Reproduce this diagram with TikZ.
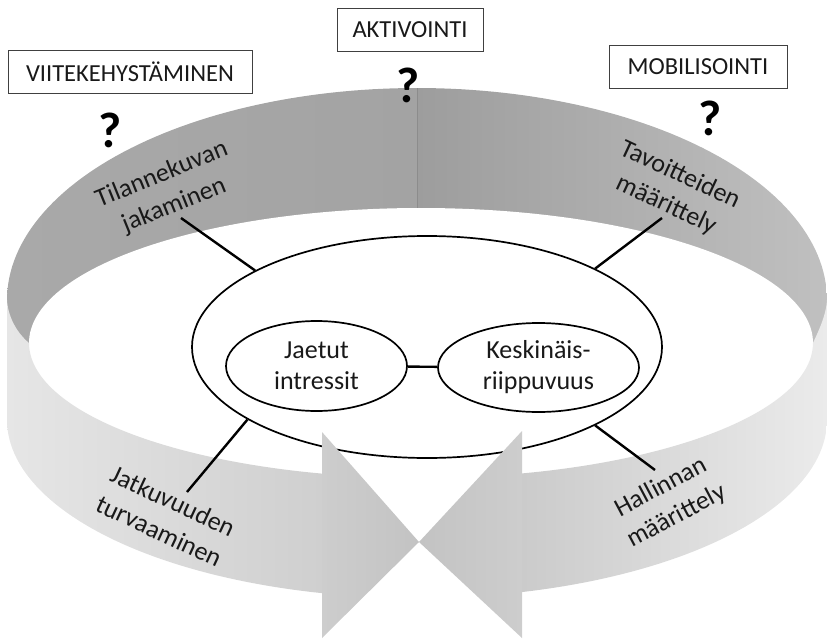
\documentclass[tikz,border=0pt]{standalone}
\usepackage{fontspec}
\setmainfont{Carlito}
\usetikzlibrary{shapes.geometric}
% band colours
\definecolor{backLo}{HTML}{A9A9A9}
\definecolor{backLi}{HTML}{A3A3A3}
\definecolor{backRi}{HTML}{9D9D9D}
\definecolor{backRo}{HTML}{C0C0C0}
\definecolor{frontLo}{HTML}{E6E6E6}
\definecolor{frontLm}{HTML}{E2E2E2}
\definecolor{frontLi}{HTML}{CFCFCF}
\definecolor{frontRi}{HTML}{CBCBCB}
\definecolor{frontRo}{HTML}{EBEBEB}
\definecolor{headA}{HTML}{CDCDCD}
\definecolor{headB}{HTML}{C3C3C3}
\definecolor{seam}{HTML}{8C8C8C}
\begin{document}
\begin{tikzpicture}[x=1pt,y=-1pt,
  lbl/.style={font=\fontsize{26}{33}\selectfont, align=center, inner sep=0pt, text=black!90},
  phase/.style={draw=black!75, line width=0.8pt, fill=white, inner sep=0pt,
    font=\fontsize{24.5}{29}\selectfont, minimum height=43pt, text=black!90},
  qmark/.style={font=\fontsize{50}{60}\selectfont\bfseries, inner sep=0pt},
  oval/.style={draw, ellipse, line width=1.7pt, inner sep=0pt, align=center,
    font=\fontsize{26}{31}\selectfont, text=black!90},
  link/.style={line width=2.4pt}
]
\useasboundingbox (0,0) rectangle (827,642);

% back wall of the ring (inside surface), two halves with a seam
\shade[left color=backLo, right color=backLi]
  plot[domain=180:90, samples=60] ({417+410*cos(\x)},{300-212*sin(\x)})
  -- (417,345) -- (7,345) -- cycle;
\shade[left color=backRi, right color=backRo]
  plot[domain=90:0, samples=60] ({417+410*cos(\x)},{300-212*sin(\x)})
  -- (827,345) -- (417,345) -- cycle;
\draw[seam, line width=0.8pt] (417,88) -- (417,208);

% open interior
\fill[white] (421,343) ellipse [x radius=392pt, y radius=135pt];

% front wall, left half running into the right-pointing head
\shade[left color=frontLo, middle color=frontLm, right color=frontLi]
  (7,300) -- (7,420)
  -- plot[domain=180:103.4, samples=50] ({417+410*cos(\x)},{420+178*sin(\x)})
  -- plot[domain=104.6:180, samples=50] ({421+392*cos(\x)},{343+135*sin(\x)})
  .. controls (16,332) and (8,316) .. (7,300) -- cycle;

% front wall, right half running into the left-pointing head
\shade[left color=frontRi, right color=frontRo]
  (827,300) -- (827,420)
  -- plot[domain=0:75.2, samples=50] ({417+410*cos(\x)},{420+178*sin(\x)})
  -- plot[domain=75.07:0, samples=50] ({421+392*cos(\x)},{343+135*sin(\x)})
  .. controls (818,332) and (826,316) .. (827,300) -- cycle;

% central ellipse and its two parts
\node[oval, minimum width=470pt, minimum height=222pt] (core) at (427,347) {};
\node[oval, minimum width=181pt, minimum height=90pt] (ji) at (316.5,366) {Jaetut\\intressit};
\node[oval, minimum width=201pt, minimum height=89pt] (kr) at (538.5,367.5) {Keskinäis-\\riippuvuus};
\draw[link] (ji) -- (kr);

% arrow heads
\shade[left color=headA, right color=headB] (322,432) -- (322,638) -- (419,542) -- cycle;
\shade[left color=headB, right color=headA] (522,431) -- (522,638) -- (419,542) -- cycle;

% labels on the ring
\node[lbl, rotate=22] (tk) at (168,190) {Tilannekuvan\\jakaminen};
\node[lbl, rotate=-25] (tv) at (673,190) {Tavoitteiden\\määrittely};
\node[lbl, rotate=-25] (jk) at (166,516) {Jatkuvuuden\\turvaaminen};
\node[lbl, rotate=28] (hm) at (669,502) {Hallinnan\\määrittely};

% connectors from the ellipse to the labels
\coordinate (tkEnd) at (181,218);
\coordinate (tvEnd) at (662,218);
\coordinate (jkEnd) at (187,492);
\coordinate (hmEnd) at (655,470);
\draw[link] (core.156) -- (tkEnd);
\draw[link] (core.25) -- (tvEnd);
\draw[link] (core.202) -- (jkEnd);
\draw[link] (core.335) -- (hmEnd);

% phase boxes and question marks
\node[phase, minimum width=244pt] (vk) at (130,72) {VIITEKEHYSTÄMINEN};
\node[phase, minimum width=146pt] (ak) at (410,29.5) {AKTIVOINTI};
\node[phase, minimum width=178pt] (mb) at (698,66.5) {MOBILISOINTI};
\node[qmark] (q1) at (110,130) {?};
\node[qmark] (q2) at (408,85) {?};
\node[qmark] (q3) at (710,118) {?};
\end{tikzpicture}
\end{document}
